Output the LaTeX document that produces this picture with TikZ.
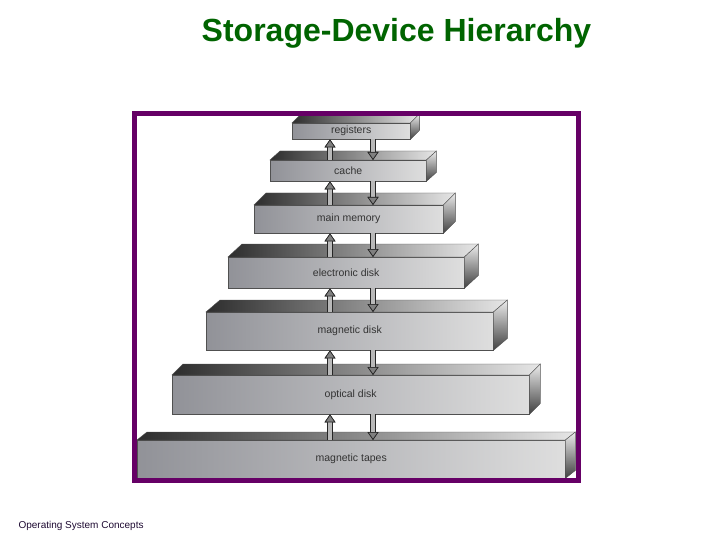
\documentclass[tikz,border=0pt]{standalone}
\usepackage{fontspec}
\setmainfont{Liberation Sans}
\usepackage{tikz}
\usepackage{xcolor}
\usetikzlibrary{arrows.meta,positioning}
\definecolor{framepurple}{RGB}{102,0,102}
\definecolor{titlegreen}{RGB}{0,100,0}
\definecolor{footink}{RGB}{30,10,50}
\definecolor{frontdark}{RGB}{145,146,152}
\definecolor{frontlight}{RGB}{222,222,222}
\definecolor{topdark}{RGB}{45,45,45}
\definecolor{toplight}{RGB}{230,230,230}
\definecolor{edge}{RGB}{80,80,80}

\begin{document}
\begin{tikzpicture}[x=1pt,y=-1pt,
  level/.style={rectangle,inner sep=0pt,anchor=north west,left color=frontdark,right color=frontlight,draw=edge,line width=0.4pt,font=\fontsize{10.5}{12}\selectfont,text=black!80},
  topface/.style={left color=topdark,right color=toplight,draw=edge,line width=0.4pt},
  sideface/.style={top color=gray!15,bottom color=black!75,draw=edge,line width=0.4pt},
  updown/.style={line width=4pt,draw=gray!55,-{Triangle[length=8pt,width=11pt,line width=0.7pt,color=gray!30!black,fill=gray]},preaction={draw=gray!30!black,line width=5.4pt,-{Triangle[length=8pt,width=11pt,line width=0pt]}}}]
\useasboundingbox (0,0) rectangle (720,540);
\node (title) at (396.5,42) [anchor=base,text=titlegreen,font=\fontsize{32}{38}\selectfont\bfseries]{Storage-Device Hierarchy};
\node (footer) at (15,528) [anchor=base west,text=footink,font=\fontsize{10}{12}\selectfont]{Operating System Concepts};
\node (reg) at (292,123) [level,minimum width=118pt,minimum height=16pt]{registers};
\node (cache) at (270,160) [level,minimum width=156pt,minimum height=21pt]{cache};
\node (mem) at (254,205) [level,minimum width=189pt,minimum height=28pt]{main memory};
\node (edisk) at (228,257) [level,minimum width=236pt,minimum height=31pt]{electronic disk};
\node (mdisk) at (206,312) [level,minimum width=287pt,minimum height=38pt]{magnetic disk};
\node (odisk) at (172,375) [level,minimum width=357pt,minimum height=39pt]{optical disk};
\node (tapes) at (137,440) [level,minimum width=428pt,minimum height=38pt]{magnetic tapes};
\path[topface] (reg.north west) -- ++(9,-9) -- ([shift={(9,-9)}]reg.north east) -- (reg.north east) -- cycle;
\path[sideface] (reg.north east) -- ++(9,-9) -- ([shift={(9,-9)}]reg.south east) -- (reg.south east) -- cycle;
\path[topface] (cache.north west) -- ++(10,-9) -- ([shift={(10,-9)}]cache.north east) -- (cache.north east) -- cycle;
\path[sideface] (cache.north east) -- ++(10,-9) -- ([shift={(10,-9)}]cache.south east) -- (cache.south east) -- cycle;
\path[topface] (mem.north west) -- ++(12,-12) -- ([shift={(12,-12)}]mem.north east) -- (mem.north east) -- cycle;
\path[sideface] (mem.north east) -- ++(12,-12) -- ([shift={(12,-12)}]mem.south east) -- (mem.south east) -- cycle;
\path[topface] (edisk.north west) -- ++(14,-13) -- ([shift={(14,-13)}]edisk.north east) -- (edisk.north east) -- cycle;
\path[sideface] (edisk.north east) -- ++(14,-13) -- ([shift={(14,-13)}]edisk.south east) -- (edisk.south east) -- cycle;
\path[topface] (mdisk.north west) -- ++(14,-12) -- ([shift={(14,-12)}]mdisk.north east) -- (mdisk.north east) -- cycle;
\path[sideface] (mdisk.north east) -- ++(14,-12) -- ([shift={(14,-12)}]mdisk.south east) -- (mdisk.south east) -- cycle;
\path[topface] (odisk.north west) -- ++(11,-11) -- ([shift={(11,-11)}]odisk.north east) -- (odisk.north east) -- cycle;
\path[sideface] (odisk.north east) -- ++(11,-11) -- ([shift={(11,-11)}]odisk.south east) -- (odisk.south east) -- cycle;
\path[topface] (tapes.north west) -- ++(10,-8) -- ([shift={(10,-8)}]tapes.north east) -- (tapes.north east) -- cycle;
\path[sideface] (tapes.north east) -- ++(10,-8) -- ([shift={(10,-8)}]tapes.south east) -- (tapes.south east) -- cycle;
\coordinate (upx) at (330,0);
\coordinate (dnx) at (373,0);
\draw[updown] (cache.north -| upx) to (reg.south -| upx);
\draw[updown] (reg.south -| dnx) to (cache.north -| dnx);
\draw[updown] (mem.north -| upx) to (cache.south -| upx);
\draw[updown] (cache.south -| dnx) to (mem.north -| dnx);
\draw[updown] (edisk.north -| upx) to (mem.south -| upx);
\draw[updown] (mem.south -| dnx) to (edisk.north -| dnx);
\draw[updown] (mdisk.north -| upx) to (edisk.south -| upx);
\draw[updown] (edisk.south -| dnx) to (mdisk.north -| dnx);
\draw[updown] (odisk.north -| upx) to (mdisk.south -| upx);
\draw[updown] (mdisk.south -| dnx) to (odisk.north -| dnx);
\draw[updown] (tapes.north -| upx) to (odisk.south -| upx);
\draw[updown] (odisk.south -| dnx) to (tapes.north -| dnx);
\draw[framepurple,line width=5pt] (134.5,113.5) rectangle (578,480.5);
\end{tikzpicture}
\end{document}
